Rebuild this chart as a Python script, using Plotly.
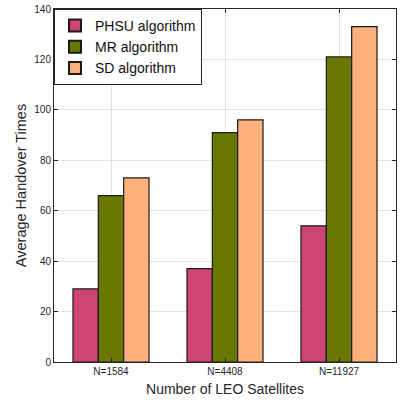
import plotly.graph_objects as go

categories = ["N=1584", "N=4408", "N=11927"]
phsu = [29, 37, 54]
mr = [66, 91, 121]
sd = [73, 96, 133]
y_ticks = [0, 20, 40, 60, 80, 100, 120, 140]

fig = go.Figure()
series = [("PHSU algorithm", phsu, "#CF4470"),
          ("MR algorithm", mr, "#687800"),
          ("SD algorithm", sd, "#FFB07C")]
for name, vals, col in series:
    fig.add_trace(go.Bar(x=categories, y=vals, name=name,
                         marker=dict(color=col, line=dict(color="#1a1a1a", width=1.2))))

fig.update_layout(
    width=400, height=405,
    margin=dict(l=54, r=4, t=9, b=43),
    paper_bgcolor="white", plot_bgcolor="white",
    barmode="group", bargap=0.333, bargroupgap=0,
    font=dict(family="Liberation Sans, Arial", color="#262626"),
    legend=dict(x=0.0, y=1.0, xanchor="left", yanchor="top",
                bgcolor="white", bordercolor="#262626", borderwidth=1,
                font=dict(size=14, color="#111"), tracegroupgap=0,
                itemwidth=30, itemsizing="constant"),
    showlegend=True,
)
fig.update_xaxes(
    showgrid=True, gridcolor="#e3e3e3", gridwidth=1,
    showline=True, linecolor="#262626", linewidth=1, mirror="ticks",
    ticks="inside", ticklen=4, tickcolor="#262626",
    tickfont=dict(size=10, color="#262626"),
    title=dict(text="Number of LEO Satellites", font=dict(size=14, color="#262626"), standoff=8),
)
fig.update_yaxes(
    range=[0, 140], tickvals=y_ticks,
    showgrid=True, gridcolor="#e3e3e3", gridwidth=1,
    showline=True, linecolor="#262626", linewidth=1, mirror="ticks",
    ticks="inside", ticklen=4, tickcolor="#262626",
    tickfont=dict(size=10, color="#262626"),
    title=dict(text="Average Handover Times", font=dict(size=14.5, color="#262626"), standoff=4),
    zeroline=False,
)

fig.write_html("out.html")
